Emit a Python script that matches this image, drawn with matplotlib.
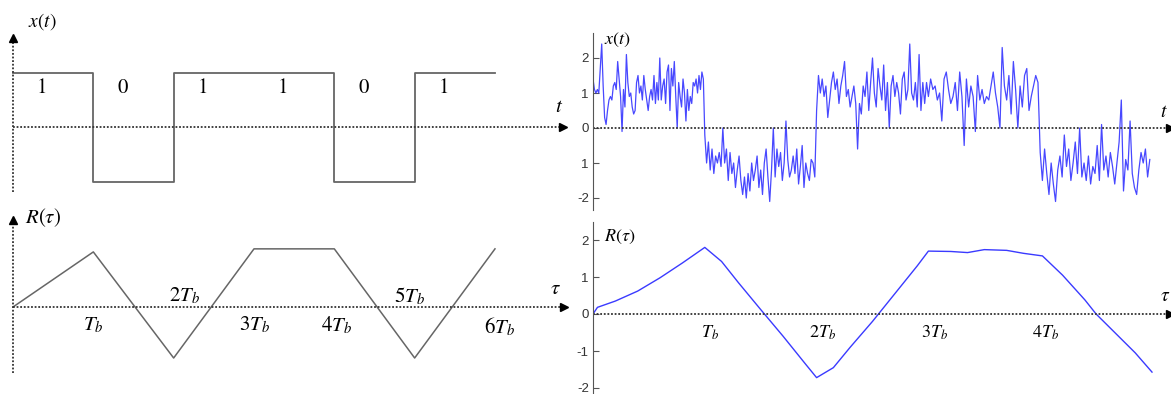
import numpy as np
import matplotlib.pyplot as plt

plt.rcParams['mathtext.fontset'] = 'stix'

# --- data ---
bits = [1, 0, 1, 1, 0, 1]
levels = [1, -1, 1, 1, -1, 1]

tau_ideal = [0, 1, 2, 3, 4, 5, 6]
r_ideal = [0, 1.08, -1.0, 1.14, 1.14, -1.0, 1.14]
tau_labels = ['$T_b$', '$2T_b$', '$3T_b$', '$4T_b$', '$5T_b$', '$6T_b$']

noisy_bit1 = [1.4, 1.1, 1.0, 1.1, 1.0, 1.7, 2.4, 1.2, 0.3, 0.1, 0.5, 0.8, 0.9, 0.8, 1.2, 1.3,
              1.1, 1.9, 1.4, 0.9, -0.1, 1.1, 0.6, 2.1, 1.3, 0.9, 1.0, 0.6, 0.4, 0.5, 1.3, 1.5,
              1.0, 1.2, 0.8, 1.5, 1.1, 0.8, 0.5, 0.9, 1.1, 0.8, 1.5, 0.7, 1.3, 0.8, 2.0, 0.8,
              1.2, 1.4, 0.7, 1.6, 1.8, 0.5, 1.7, 1.2, 1.9, 0.9, 0.0, 1.3, 0.9, 0.6, 1.4, 1.0,
              0.2, 1.1, 0.5, 0.9, 0.7, 1.3, 1.2, 1.4, 1.0, 1.5, 1.1, 1.6, 1.4]
noisy_bit2 = [-0.2, -1.0, -0.4, -1.2, -0.6, -1.3, -0.8, -1.0, -0.7, -1.1, 0.0, -1.0, -0.6, -1.5,
              -0.7, -1.3, -1.0, -1.7, -1.2, -0.8, -1.5, -1.9, -1.4, -2.0, -1.3, -1.8, -1.0, -1.5,
              -1.2, -0.8, -1.7, -1.2, -1.9, -1.0, -0.6, -1.4, -2.1, -1.2, 0.0, -1.4, -0.6, -1.1,
              -0.7, -1.5, -1.0, 0.2, -0.9, -1.4, -1.2, -0.8, -1.3, -0.6, -1.6, -1.1, -0.5, -1.7,
              -1.0, -1.3, -1.5, -0.9, -1.0, -1.4]
noisy_bit3 = [0.5, 1.5, 1.0, 1.4, 0.9, 1.2, 0.3, 0.8, 1.3, 1.6, 1.1, 1.4, 0.7, 1.2, 1.5, 1.9,
              0.9, 1.1, 0.6, 0.9, 1.2, 0.7, -0.6, 0.7, 0.4, 1.2, 0.9, 1.6, 0.5, 1.3, 2.0, 1.0,
              0.6, 1.7, 1.2, 0.8, 1.8, 0.5, 1.3, 0.0, 1.2, 1.5, 0.9, 1.3, 1.0, 0.4, 1.4, 1.6,
              0.8, 1.1, 2.4, 1.0, 0.8, 1.3, 0.6, 2.1, 0.5, 1.3, 0.7, 1.3]
noisy_bit4 = [0.9, 1.4, 1.1, 1.2, 0.8, 1.0, 0.2, 1.4, 1.6, 1.1, 0.7, 0.9, 1.3, 0.5, 1.6, 0.9,
              -0.5, 1.4, 0.6, 1.2, 0.9, -0.1, 1.5, 0.8, 1.1, 0.7, 0.9, 0.8, 1.2, 1.6, 1.0, 0.6,
              0.0, 2.3, 1.2, 0.8, 1.5, 0.4, 1.9, 1.1, 0.0, 1.2, 0.6, 1.5, 1.7, 0.5, 0.9, 1.2,
              1.5, 1.3]
noisy_bit5 = [-0.7, -1.5, -0.6, -1.3, -1.9, -1.0, -1.6, -2.1, -1.2, -0.8, -1.4, -0.2, -1.1, -0.6,
              -1.5, -1.0, -0.4, -1.3, 0.0, -1.4, -1.0, -1.5, -0.8, -1.6, -1.1, -1.3, -0.5, -1.5,
              0.1, -1.2, -0.8, -1.4, -0.7, -1.1, -1.6, -1.0, -0.4, 0.8, -1.8, -0.9, -1.2, 0.2,
              -1.3, -1.7, -1.9, -1.2, -0.7, -1.0, -0.6, -1.4, -0.9]

tau_est = [0, 0.04, 0.2, 0.4, 0.6, 0.8, 1.0, 1.15, 1.3, 1.5, 1.7, 1.9, 2.0, 2.15, 2.3, 2.5,
           2.7, 2.9, 3.0, 3.2, 3.35, 3.5, 3.7, 3.85, 4.02, 4.2, 4.4, 4.5, 4.7, 4.85, 5.0]
r_est = [0, 0.18, 0.35, 0.62, 0.98, 1.38, 1.8, 1.42, 0.85, 0.12, -0.6, -1.35, -1.72, -1.45,
         -0.9, -0.2, 0.55, 1.3, 1.7, 1.69, 1.66, 1.74, 1.72, 1.64, 1.57, 1.05, 0.38, 0.0,
         -0.6, -1.05, -1.57]

right_ticks = [-2, -1, 0, 1, 2]

# --- layout helpers (pixels of a 1171 x 394 image) ---
W, H = 1171, 394
fig = plt.figure(figsize=(W / 100, H / 100), dpi=100)


def make_axes(x0, y0, x1, y1, ox, oy, sx, sy):
    ax = fig.add_axes([x0 / W, 1 - y1 / H, (x1 - x0) / W, (y1 - y0) / H])
    ax.set_xlim((x0 - ox) / sx, (x1 - ox) / sx)
    ax.set_ylim((oy - y1) / sy, (oy - y0) / sy)
    return ax


def arrow_axes(ax, xtip, ybot, ytop, with_y=True):
    ax.plot([0, xtip], [0, 0], color='#333333', lw=1.3, ls=(0, (1, 1)), clip_on=False)
    ax.plot([xtip], [0], marker='>', color='black', ms=6, clip_on=False)
    if with_y:
        ax.plot([0, 0], [ybot, ytop], color='#333333', lw=1.3, ls=(0, (1, 1)), clip_on=False)
        ax.plot([0], [ytop], marker='^', color='black', ms=6, clip_on=False)


serif = dict(fontsize=14, ha='center', va='center')

# left top: ideal NRZ waveform
ax1 = make_axes(0, 0, 580, 200, 13, 127, 80.33, 54.5)
ax1.axis('off')
ax1.step(np.arange(len(levels) + 1), levels + [levels[-1]], where='post', color='#666666', lw=1.3)
arrow_axes(ax1, 6.85, -1.19, 1.63)
for i, b in enumerate(bits):
    ax1.text(i + 0.36, 0.72, str(b), family='STIXGeneral', fontsize=15, ha='center', va='center')
ax1.text(0.36, 1.93, '$x(t)$', **serif)
ax1.text(6.8, 0.38, '$t$', fontsize=15, ha='center', va='center')

# left bottom: ideal autocorrelation
ax2 = make_axes(0, 200, 580, 394, 13, 307, 80.33, 51)
ax2.axis('off')
ax2.plot(tau_ideal, r_ideal, color='#666666', lw=1.1)
arrow_axes(ax2, 6.86, -1.29, 1.71)
label_pos = [(1.0, -0.35), (2.14, 0.22), (3.01, -0.35), (4.03, -0.35), (4.94, 0.22), (6.06, -0.38)]
for txt, (lx, ly) in zip(tau_labels, label_pos):
    ax2.text(lx, ly, txt, fontsize=15, ha='center', va='center')
ax2.text(0.37, 1.76, r'$R(\tau)$', fontsize=15, ha='center', va='center')
ax2.text(6.75, 0.37, r'$\tau$', fontsize=15, ha='center', va='center')


def style_right(ax, ticklabels):
    for s in ['top', 'right', 'bottom']:
        ax.spines[s].set_visible(False)
    ax.spines['left'].set_color('#555555')
    ax.set_xticks([])
    ax.set_yticks(right_ticks)
    ax.set_yticklabels(ticklabels, family='Liberation Sans', fontsize=9.5, color='#333333')
    ax.tick_params(axis='y', direction='in', length=4, color='#555555', pad=3)
    ax.patch.set_visible(False)


# right top: noisy received signal
ax3 = make_axes(593, 33, 1171, 210, 593, 128, 111.8, 35)
style_right(ax3, ['-2', '1', '0', '1', '2'])
segments = [noisy_bit1, noisy_bit2, noisy_bit3, noisy_bit4, noisy_bit5]
t_all, x_all = [], []
for k, seg in enumerate(segments):
    t_all.extend(np.linspace(k, k + 1, len(seg), endpoint=False))
    x_all.extend(seg)
ax3.plot(t_all, x_all, color='#1a1aff', lw=0.9, alpha=0.8)
arrow_axes(ax3, 5.16, 0, 0, with_y=False)
ax3.text(0.22, 2.51, '$x(t)$', fontsize=13, ha='center', va='center')
ax3.text(5.11, 0.46, '$t$', fontsize=14, ha='center', va='center')

# right bottom: estimated autocorrelation
ax4 = make_axes(593, 222, 1171, 394, 593, 314, 111.8, 37)
style_right(ax4, ['-2', '-1', '0', '1', '2'])
ax4.plot(tau_est, r_est, color='#3a3aff', lw=1.0)
arrow_axes(ax4, 5.16, 0, 0, with_y=False)
for i, txt in enumerate(tau_labels[:4]):
    ax4.text(i + 1.05, -0.5, txt, fontsize=13, ha='center', va='center')
ax4.text(0.24, 2.08, r'$R(\tau)$', fontsize=13, ha='center', va='center')
ax4.text(5.12, 0.51, r'$\tau$', fontsize=14, ha='center', va='center')

fig.savefig('out.png', dpi=100)
